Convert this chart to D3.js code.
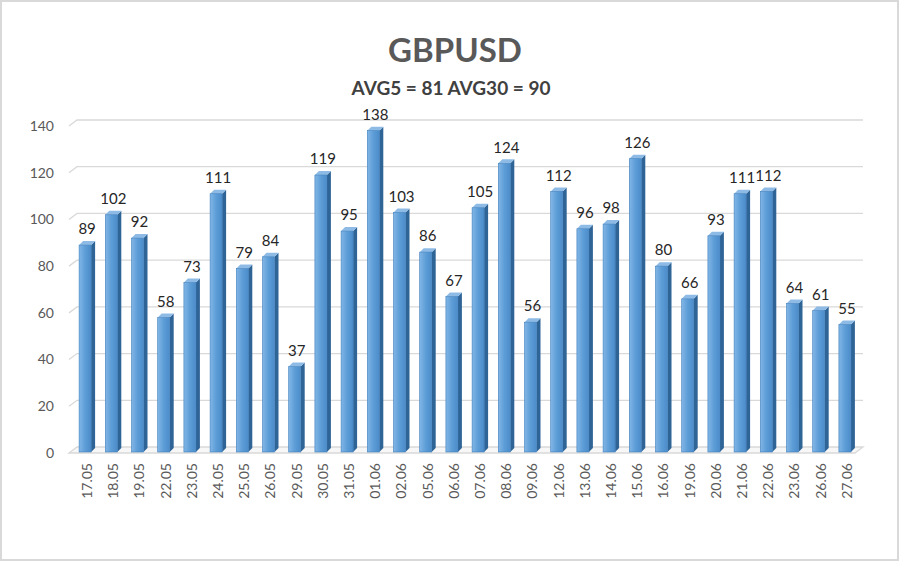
<!DOCTYPE html>
<html><head><meta charset="utf-8">
<script src="https://cdn.jsdelivr.net/npm/d3@7"></script>
<style>body{margin:0;background:#fff}svg{display:block}</style>
</head><body>
<script>
const categories = ["17.05","18.05","19.05","22.05","23.05","24.05","25.05","26.05","29.05","30.05","31.05","01.06","02.06","05.06","06.06","07.06","08.06","09.06","12.06","13.06","14.06","15.06","16.06","19.06","20.06","21.06","22.06","23.06","26.06","27.06"];
const values = [89,102,92,58,73,111,79,84,37,119,95,138,103,86,67,105,124,56,112,96,98,126,80,66,93,111,112,64,61,55];
const yTicks = [0,20,40,60,80,100,120,140];
const title = "GBPUSD";
const subtitle = "AVG5 = 81 AVG30 = 90";

const W = 900, H = 562;
const font = "Lato, 'Open Sans', sans-serif";
const svg = d3.select("body").append("svg").attr("width", W).attr("height", H);

const defs = svg.append("defs");
const g1 = defs.append("linearGradient").attr("id","front").attr("x1","0").attr("x2","1").attr("y1","0").attr("y2","0");
g1.append("stop").attr("offset","0").attr("stop-color","#82b6e6");
g1.append("stop").attr("offset","0.5").attr("stop-color","#5d9dd7");
g1.append("stop").attr("offset","1").attr("stop-color","#4b8cca");

svg.append("rect").attr("x",1).attr("y",1).attr("width",W-3).attr("height",H-3)
  .attr("fill","#fff").attr("stroke","#d9d9d9").attr("stroke-width",2);

const x = d3.scaleBand().domain(categories).range([73, 859]).paddingInner(0).paddingOuter(0);
const y = d3.scaleLinear().domain([0,140]).range([453,126]);
const dx = 8, dy = -6;   // floor depth
const bdx = 4, bdy = -4; // bar depth
const bw = 12;

// gridlines
yTicks.forEach(t => {
  if (t === 0) return;
  const yy = y(t);
  svg.append("path").attr("d", `M69,${yy} L${69+dx},${yy+dy} L863,${yy+dy}`)
    .attr("fill","none").attr("stroke","#d9d9d9").attr("stroke-width",1.3);
});
// floor
svg.append("path").attr("d", `M69,${y(0)} L${69+dx},${y(0)+dy} L863,${y(0)+dy} L855,${y(0)} Z`)
  .attr("fill","#f7f7f7").attr("stroke","#d9d9d9").attr("stroke-width",1.3);

// y labels
svg.append("g").selectAll("text").data(yTicks).join("text")
  .attr("x", 54).attr("y", d => y(d)).attr("dy","0.35em").attr("text-anchor","end")
  .attr("font-family", font).attr("font-size", 14).attr("fill","#595959").text(d => d);

// bars
const bars = svg.append("g").selectAll("g").data(values).join("g");
bars.each(function(v, i) {
  const gsel = d3.select(this);
  const cx = x(categories[i]) + x.bandwidth()/2;
  const x0 = cx - bw/2 - 1, x1 = x0 + bw;
  const y0 = y(0) - 1, y1 = y(v);
  gsel.append("path").attr("d", `M${x1},${y0} L${x1+bdx},${y0+bdy} L${x1+bdx},${y1+bdy} L${x1},${y1} Z`)
    .attr("fill","#2f6497");
  gsel.append("path").attr("d", `M${x0},${y1} L${x0+bdx},${y1+bdy} L${x1+bdx},${y1+bdy} L${x1},${y1} Z`)
    .attr("fill","#8dbbe6");
  gsel.append("rect").attr("x", x0).attr("y", y1).attr("width", bw).attr("height", y0 - y1)
    .attr("fill","url(#front)").attr("stroke","#3f7fbd").attr("stroke-width",0.6);
});

// value labels
svg.append("g").selectAll("text").data(values).join("text")
  .attr("x", (d,i) => x(categories[i]) + x.bandwidth()/2 + 1)
  .attr("y", d => y(d) - 16).attr("dy","0.35em").attr("text-anchor","middle")
  .attr("font-family", font).attr("font-size", 15).attr("fill","#262626").text(d => d);

// x labels
svg.append("g").selectAll("text").data(categories).join("text")
  .attr("transform", d => `translate(${x(d) + x.bandwidth()/2 + 1},463) rotate(-90)`)
  .attr("dy","0.35em").attr("text-anchor","end")
  .attr("font-family", font).attr("font-size", 14).attr("fill","#595959").text(d => d);

// titles
svg.append("text").attr("x", 455).attr("y", 50).attr("dy","0.35em").attr("text-anchor","middle")
  .attr("font-family", font).attr("font-weight","bold").attr("font-size", 33).attr("fill","#595959").text(title);
svg.append("text").attr("x", 451).attr("y", 88).attr("dy","0.35em").attr("text-anchor","middle")
  .attr("font-family", font).attr("font-weight","bold").attr("font-size", 19).attr("fill","#404040").text(subtitle);
</script>
</body></html>
